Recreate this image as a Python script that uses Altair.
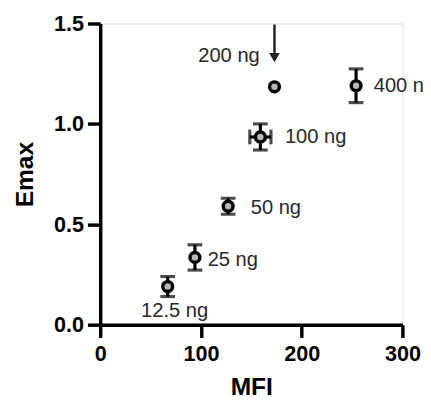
import altair as alt
import pandas as pd

doses = ["12.5 ng", "25 ng", "50 ng", "100 ng", "200 ng", "400 ng"]
mfi = [67, 94, 127, 159, 173, 254]
emax = [0.19, 0.335, 0.59, 0.935, 1.185, 1.19]
emax_err = [0.05, 0.063, 0.04, 0.065, 0.0, 0.084]
mfi_err = [0, 0, 0, 10.5, 0, 0]

# annotation arrow pointing at the 200 ng point
arrow_x = [173]
arrow_top = [1.495]
arrow_bottom = [1.33]

df = pd.DataFrame({"dose": doses, "mfi": mfi, "emax": emax,
                   "emax_err": emax_err, "mfi_err": mfi_err})
df["ylo"] = df["emax"] - df["emax_err"]
df["yhi"] = df["emax"] + df["emax_err"]
df["xlo"] = df["mfi"] - df["mfi_err"]
df["xhi"] = df["mfi"] + df["mfi_err"]

FONT = "Liberation Sans"

xs = alt.Scale(domain=[0, 300], nice=False, zero=True)
ys = alt.Scale(domain=[0, 1.5], nice=False)

X = alt.X("mfi:Q", scale=xs, title="MFI",
          axis=alt.Axis(values=[0, 100, 200, 300], grid=False, domainWidth=3.5,
                        tickWidth=3.5, tickSize=13, domainColor="black", tickColor="black",
                        labelFont=FONT, labelFontWeight="bold", labelFontSize=22,
                        labelColor="black", labelPadding=7, titleFont=FONT,
                        titleFontWeight="bold", titleFontSize=25, titleColor="black",
                        titlePadding=10, labelFlush=False))
Y = alt.Y("emax:Q", scale=ys, title="Emax",
          axis=alt.Axis(values=[0, 0.5, 1.0, 1.5], format=".1f", grid=False, domainWidth=3.5,
                        tickWidth=3.5, tickSize=13, domainColor="black", tickColor="black",
                        labelFont=FONT, labelFontWeight="bold", labelFontSize=22,
                        labelColor="black", labelPadding=4, titleFont=FONT,
                        titleFontWeight="bold", titleFontSize=25, titleColor="black",
                        titlePadding=16, labelFlush=False))

base = alt.Chart(df)

CAP = 15
SW = 3.2
vbar = base.transform_filter("datum.emax_err > 0.02").mark_rule(
    color="black", strokeWidth=SW).encode(x=X, y="ylo:Q", y2="yhi:Q")
vcaps_lo = base.transform_filter("datum.emax_err > 0.02").mark_tick(
    color="black", thickness=SW, size=CAP, orient="horizontal").encode(x=X, y=alt.Y("ylo:Q", scale=ys))
vcaps_hi = base.transform_filter("datum.emax_err > 0.02").mark_tick(
    color="black", thickness=SW, size=CAP, orient="horizontal").encode(x=X, y=alt.Y("yhi:Q", scale=ys))
hbar = base.transform_filter("datum.mfi_err > 3").mark_rule(
    color="black", strokeWidth=SW).encode(x=alt.X("xlo:Q", scale=xs), x2="xhi:Q", y=Y)
hcaps_lo = base.transform_filter("datum.mfi_err > 3").mark_tick(
    color="black", thickness=SW, size=CAP, orient="vertical").encode(x=alt.X("xlo:Q", scale=xs), y=Y)
hcaps_hi = base.transform_filter("datum.mfi_err > 3").mark_tick(
    color="black", thickness=SW, size=CAP, orient="vertical").encode(x=alt.X("xhi:Q", scale=xs), y=Y)

pts = base.mark_point(filled=False, fill="#b8b8b8", fillOpacity=1, stroke="black",
                      strokeWidth=3.5, size=100, shape="circle", opacity=1).encode(x=X, y=Y)

def lab(name, dx, dy, align):
    return base.transform_filter(alt.datum.dose == name).mark_text(
        font=FONT, fontSize=20.5, color="#2a2a2a", align=align, baseline="middle",
        dx=dx, dy=dy).encode(x=X, y=Y, text="dose:N")

labels = [lab("12.5 ng", 7, 25, "center"), lab("25 ng", 13, 3, "left"),
          lab("50 ng", 23, 1.5, "left"), lab("100 ng", 25, 0, "left"),
          lab("400 ng", 18, 0, "left"), lab("200 ng", -15, -31.5, "right")]

adf = pd.DataFrame({"x": arrow_x, "top": arrow_top, "bot": arrow_bottom})
arrow_line = alt.Chart(adf).mark_rule(color="#222222", strokeWidth=2.5).encode(
    x=alt.X("x:Q", scale=xs), y=alt.Y("top:Q", scale=ys), y2="bot:Q")
arrow_head = alt.Chart(adf).mark_point(shape="triangle-down", filled=True, color="#222222",
                                       size=120, opacity=1).encode(
    x=alt.X("x:Q", scale=xs), y=alt.Y("bot:Q", scale=ys))

chart = alt.layer(vbar, vcaps_lo, vcaps_hi, hbar, hcaps_lo, hcaps_hi, pts,
                  *labels, arrow_line, arrow_head).properties(
    width=308, height=307,
    autosize=alt.AutoSizeParams(type="none"),
    padding={"left": 94, "top": 12, "right": 21, "bottom": 76},
).configure_view(stroke=None).configure(background="white")

chart.save("out.html", embed_options={"renderer": "svg", "actions": False})
